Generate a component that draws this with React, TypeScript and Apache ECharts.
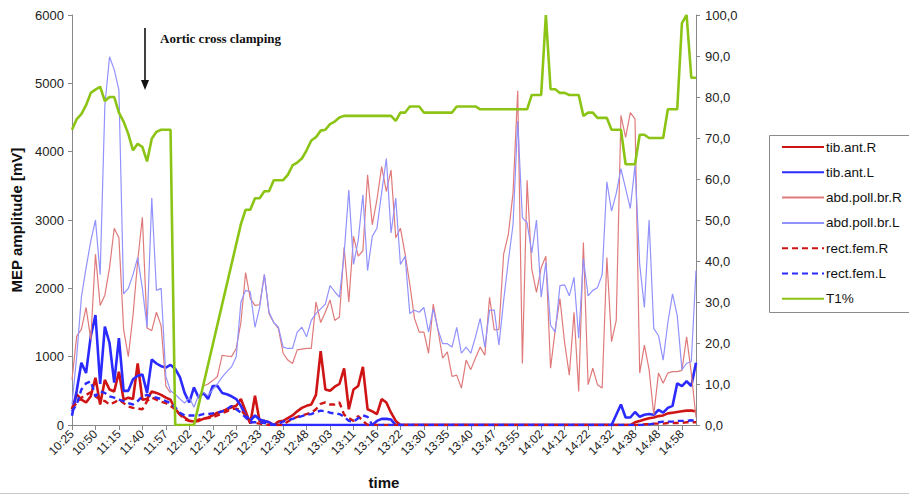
import React, { useEffect, useRef } from 'react';
import * as echarts from 'echarts';

const tickLabels = [
  '10:25', '10:50', '11:15', '11:40', '11:57', '12:02', '12:12', '12:25', '12:33',
  '12:38', '12:48', '13:03', '13:11', '13:16', '13:22', '13:30', '13:35', '13:40',
  '13:47', '13:55', '14:02', '14:12', '14:22', '14:32', '14:38', '14:48', '14:58',
];

const tibAntR = [
  230, 450, 370, 330, 420, 690, 300, 660, 520, 490,
  780, 370, 400, 380, 900, 370, 380, 490, 470, 440,
  400, 370, 230, 160, 110, 60, 50, 60, 90, 110,
  140, 180, 200, 230, 260, 280, 380, 200, 20, 430,
  50, 60, 40, 0, 50, 60, 100, 140, 200, 250,
  280, 300, 440, 1080, 520, 500, 560, 600, 830, 230,
  520, 570, 850, 230, 200, 160, 380, 330, 180, 60,
  0, 0, 0, 0, 0, 0, 0, 0, 0, 0,
  0, 0, 0, 0, 0, 0, 0, 0, 0, 0,
  0, 0, 0, 0, 0, 0, 0, 0, 0, 0,
  0, 0, 0, 0, 0, 0, 0, 0, 0, 0,
  0, 0, 0, 0, 0, 0, 0, 0, 0, 0,
  40, 60, 80, 100, 110, 130, 140, 170, 180, 190,
  200, 210, 210, 200,
];

const tibAntL = [
  135, 500, 910, 760, 1300, 1610, 600, 1440, 1200, 620,
  1270, 500, 500, 670, 720, 740, 470, 960, 900, 860,
  840, 880, 820, 700, 470, 330, 550, 400, 470, 380,
  570, 570, 470, 450, 420, 380, 280, 140, 60, 140,
  80, 60, 40, 0, 0, 0, 0, 0, 0, 0,
  0, 0, 0, 0, 0, 0, 0, 0, 0, 0,
  0, 0, 0, 0, 0, 60, 90, 90, 80, 0,
  0, 0, 0, 0, 0, 0, 0, 0, 0, 0,
  0, 0, 0, 0, 0, 0, 0, 0, 0, 0,
  0, 0, 0, 0, 0, 0, 0, 0, 0, 0,
  0, 0, 0, 0, 0, 0, 0, 0, 0, 0,
  0, 0, 0, 0, 0, 0, 150, 300, 110, 110,
  190, 120, 150, 160, 150, 220, 180, 250, 280, 610,
  570, 640, 570, 910,
];

const abdPollBrR = [
  660, 1300, 1400, 1720, 1250, 2500, 1750, 1900, 2300, 2880,
  2740, 1400, 1000, 1600, 2400, 3040, 1420, 1380, 1650, 1450,
  570, 470, null, null, null, null, null, null, 570, 600,
  650, 710, 1020, 1010, 1000, 1120, 1500, 2230, 1850, 1750,
  1760, 2200, 1630, 1500, 1410, 1050, 950, 900, 1100, 1110,
  1120, 1120, 1800, 1500, 1650, 1830, 1530, 1580, 2600, 1800,
  2760, 2470, 2550, 3660, 2930, 3300, 3780, 3420, 3730, 2740,
  2880, 2500, 2060, 1560, 1360, 1360, 1050, 1770, 1390, 980,
  1070, 710, 730, 540, 950, 810, 980, 1140, 1020, 1870,
  1390, 1400, 2500, 2790, 3390, 4890, 900, 3580, 2280, 1940,
  2300, 2470, 830, 1400, 1850, 1200, 730, 1650, 490, 2670,
  590, 830, 590, 540, 2450, 1220, 1530, 4530, 4210, 4570,
  4480, 760, 1170, 810, 150, 760, 610, 760, 780, 780,
  800, 1290, 760, 110,
];

const abdPollBrL = [
  300, 1000, 1870, 2300, 2690, 3000, 2200, 4670, 5390, 5200,
  4900, 1920, 2000, 2200, 2450, 2000, 1430, 3320, 1970, 2000,
  710, 500, 450, 380, 320, 400, 260, 440, 480, 430,
  520, 600, 700, 780, 850, 1000, 1800, 1970, 1950, 1430,
  1720, 2200, 1650, 1500, 1430, 1140, 1120, 1120, 1360, 1430,
  1290, 1530, 1630, 1700, 1770, 2040, 1950, 1870, 2500, 3440,
  2350, 2700, 3370, 2260, 2760, 2880, 3400, 3900, 2810, 3320,
  2350, 2470, 1630, 1680, 1650, 1720, 1360, 1700, 1400, 1190,
  1190, 1140, 1430, 1050, 1140, 1050, 1290, 1560, 1140, 1680,
  1680, 1170, 1820, 2400, 2930, 4450, 3030, 2960, 2520, 3000,
  1870, 2380, 1460, 1360, 2040, 2050, 1890, 2160, 1270, 2430,
  1890, 1970, 2010, 2200, 3560, 3130, 3390, 3750, 3460, 3170,
  3800, 2350, 1720, 3000, 1410, 1310, 950, 1500, 1920, 1600,
  810, 900, 930, 2260,
];

const rectFemR = [
  250, 320, 400, 440, 480, 420, 370, 350, 300, 330,
  370, 320, 270, 250, 240, 230, 350, 400, 370, 340,
  320, 280, 230, 150, 80, 60, 60, 80, 90, 100,
  110, 140, 170, 200, 230, 240, 220, 140, 40, 30,
  20, 10, 0, 0, 0, 0, 50, 90, 120, 140,
  160, 180, 230, 310, 330, 300, 300, 330, 150, 100,
  60, 130, 60, 0, 0, 0, 0, 0, 0, 0,
  0, 0, 0, 0, 0, 0, 0, 0, 0, 0,
  0, 0, 0, 0, 0, 0, 0, 0, 0, 0,
  0, 0, 0, 0, 0, 0, 0, 0, 0, 0,
  0, 0, 0, 0, 0, 0, 0, 0, 0, 0,
  0, 0, 0, 0, 0, 0, 0, 0, 0, 0,
  0, 0, 10, 10, 20, 20, 20, 30, 30, 30,
  30, 40, 40, 40,
];

const rectFemL = [
  200, 300, 520, 610, 640, 420, 490, 470, 420, 400,
  370, 350, 320, 300, 350, 420, 440, 420, 400, 380,
  350, 320, 260, 180, 140, 140, 140, 140, 160, 160,
  170, 180, 200, 230, 280, 230, 180, 110, 40, 40,
  40, 30, 10, 0, 20, 50, 70, 90, 110, 130,
  150, 160, 190, 210, 200, 180, 170, 160, 120, 60,
  50, 100, 140, 120, 0, 0, 0, 0, 0, 0,
  0, 0, 0, 0, 0, 0, 0, 0, 0, 0,
  0, 0, 0, 0, 0, 0, 0, 0, 0, 0,
  0, 0, 0, 0, 0, 0, 0, 0, 0, 0,
  0, 0, 0, 0, 0, 0, 0, 0, 0, 0,
  0, 0, 0, 0, 0, 0, 0, 0, 0, 0,
  0, 0, 0, 10, 20, 40, 50, 50, 50, 60,
  60, 60, 70, 60,
];

const t1Percent = [
  72, 74.6, 75.8, 78, 81, 81.8, 82.5, 79, 80, 80,
  76.2, 74, 71, 67, 68.6, 67.8, 64.3, 69.8, 71.5, 72,
  72, 72, 0, 0, 0, 0, 0, null, null, null,
  null, null, null, null, null, null, 49, 52.5, 52.5, 55.3,
  55.3, 57, 57, 59.7, 59.7, 59.7, 61, 63.3, 64, 65,
  67, 69.4, 70.2, 71.8, 72, 73.4, 74, 75, 75.4, 75.4,
  75.4, 75.4, 75.4, 75.4, 75.4, 75.4, 75.4, 75.4, 75.4, 74.2,
  76.2, 76.2, 77.7, 77.7, 77.7, 76.2, 76.2, 76.2, 76.2, 76.2,
  76.2, 76.2, 77.7, 77.7, 77.7, 77.7, 77.7, 77, 77, 77,
  77, 77, 77, 77, 77, 77, 77, 77, 80.5, 80.5,
  80.5, 100, 81.9, 81.9, 81, 81, 80.5, 80.5, 80.5, 75.4,
  76.2, 76.2, 74.9, 74.9, 74.9, 72, 72, 72, 63.6, 63.6,
  63.6, 70.8, 70.8, 70, 70, 70, 70, 77, 77, 77,
  98, 100, 84.7, 84.7,
];

const sampleNo = t1Percent.map((_, i) => String(i + 1));

const RED = '#cf1414';
const BLUE = '#2b2bff';
const LIGHT_RED = '#e07a7a';
const LIGHT_BLUE = '#9292ff';
const GREEN = '#8cc416';
const FONT = '"Liberation Sans", Arial, sans-serif';

export default function App() {
  const ref = useRef<HTMLDivElement>(null);
  useEffect(() => {
    const chart = echarts.init(ref.current!, null, { renderer: 'svg' });
    const line = (name: string, data: any[], color: string, width: number, dash?: number[], yAxisIndex = 0) => ({
      name,
      type: 'line',
      data,
      yAxisIndex,
      symbol: 'none',
      showSymbol: false,
      lineStyle: { color, width, type: dash ? dash : 'solid' },
      itemStyle: { color },
    });
    chart.setOption({
      animation: false,
      backgroundColor: '#fff',
      grid: { left: 72, right: 213, top: 15, bottom: 66, containLabel: false },
      xAxis: {
        type: 'category',
        data: sampleNo,
        boundaryGap: false,
        name: 'time',
        nameLocation: 'middle',
        nameGap: 50,
        nameTextStyle: { fontFamily: FONT, fontWeight: 'bold', fontSize: 15, color: '#111' },
        axisLine: { lineStyle: { color: '#888', width: 1 } },
        axisTick: { interval: 4, length: 5, lineStyle: { color: '#888' } },
        axisLabel: {
          interval: 4,
          rotate: 45,
          margin: 7,
          fontFamily: FONT,
          fontSize: 12,
          color: '#222',
          formatter: (_v: string, idx: number) => (idx % 5 === 0 ? tickLabels[idx / 5] ?? '' : ''),
        },
        splitLine: { show: false },
      },
      yAxis: [
        {
          type: 'value',
          min: 0,
          max: 6000,
          interval: 1000,
          name: 'MEP amplitude [mV]',
          nameLocation: 'middle',
          nameGap: 43,
          nameTextStyle: { fontFamily: FONT, fontWeight: 'bold', fontSize: 15, color: '#111' },
          axisLine: { show: true, lineStyle: { color: '#888' } },
          axisTick: { show: true, length: 4, lineStyle: { color: '#888' } },
          axisLabel: {
            fontFamily: FONT,
            fontSize: 13,
            color: '#222',
            margin: 8,
            formatter: (v: number) => String(v),
          },
          splitLine: { show: false },
        },
        {
          type: 'value',
          min: 0,
          max: 100,
          interval: 10,
          position: 'right',
          axisLine: { show: true, lineStyle: { color: '#888' } },
          axisTick: { show: true, length: 4, lineStyle: { color: '#888' } },
          axisLabel: {
            fontFamily: FONT,
            fontSize: 13,
            color: '#222',
            margin: 9,
            formatter: (v: number) => v.toFixed(1).replace('.', ','),
          },
          splitLine: { show: false },
        },
      ],
      legend: {
        orient: 'vertical',
        left: 781,
        top: 140,
        padding: 0,
        itemWidth: 42,
        itemHeight: 14,
        itemGap: 11.3,
        itemStyle: { opacity: 0 },
        textStyle: { fontFamily: FONT, fontSize: 13.5, color: '#111', padding: [0, 0, 0, -3] },
        data: ['tib.ant.R', 'tib.ant.L', 'abd.poll.br.R', 'abd.poll.br.L', 'rect.fem.R', 'rect.fem.L', 'T1%'],
      },
      graphic: [
        {
          type: 'rect',
          shape: { x: 769.5, y: 135.5, width: 170, height: 177 },
          style: { fill: 'none', stroke: '#8a8a8a', lineWidth: 1 },
          silent: true,
        },
        {
          type: 'line',
          shape: { x1: 0, y1: 493.5, x2: 909, y2: 493.5 },
          style: { stroke: '#c8c8c8', lineWidth: 1 },
          silent: true,
        },
        {
          type: 'line',
          shape: { x1: 145, y1: 28, x2: 145, y2: 82 },
          style: { stroke: '#111', lineWidth: 1.6 },
          silent: true,
        },
        {
          type: 'polygon',
          shape: { points: [[141, 80], [149, 80], [145, 90]] },
          style: { fill: '#111' },
          silent: true,
        },
        {
          type: 'text',
          x: 160,
          y: 38,
          style: {
            text: 'Aortic cross clamping',
            fontFamily: '"Liberation Serif", "Times New Roman", serif',
            fontWeight: 'bold',
            fontSize: 13,
            fill: '#111',
            verticalAlign: 'middle',
          },
          silent: true,
        },
      ],
      series: [
        line('tib.ant.R', tibAntR, RED, 2.6),
        line('tib.ant.L', tibAntL, BLUE, 2.6),
        line('abd.poll.br.R', abdPollBrR, LIGHT_RED, 1.2),
        line('abd.poll.br.L', abdPollBrL, LIGHT_BLUE, 1.2),
        line('rect.fem.R', rectFemR, RED, 2.4, [6, 4]),
        line('rect.fem.L', rectFemL, BLUE, 2.4, [6, 4]),
        { ...line('T1%', t1Percent, GREEN, 2.6, undefined, 1), connectNulls: true },
      ],
    });
    return () => chart.dispose();
  }, []);
  return (
    <div
      ref={ref}
      style={{ position: 'absolute', left: 0, top: 0, width: 909, height: 495, background: '#fff' }}
    />
  );
}
